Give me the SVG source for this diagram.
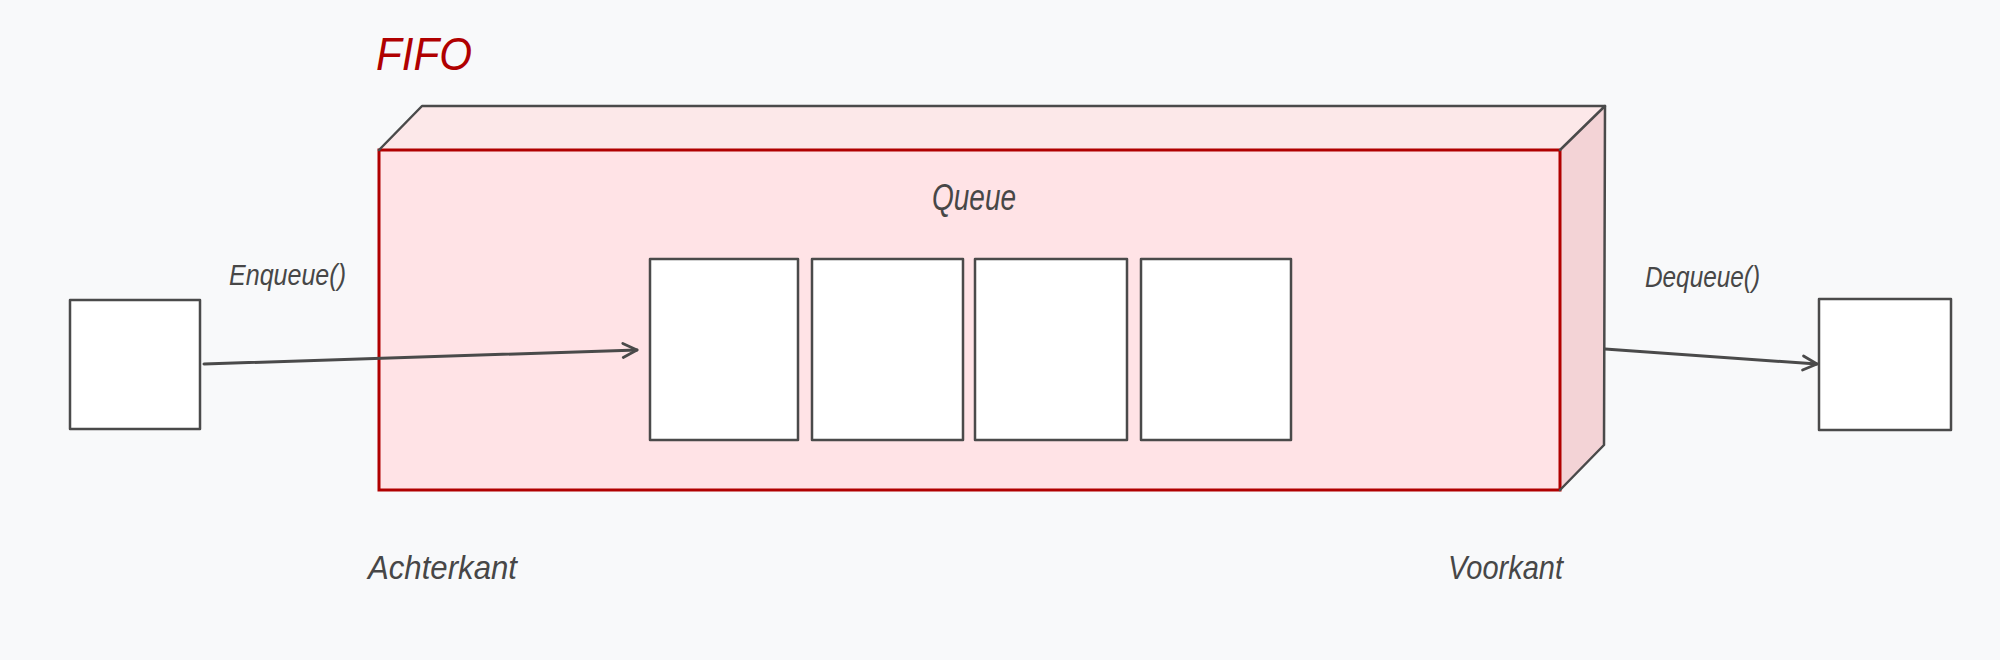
<svg xmlns="http://www.w3.org/2000/svg" width="2000" height="660" viewBox="0 0 2000 660">
  <defs>
    <style>
      .hand { font-family: "Liberation Sans", "DejaVu Sans", sans-serif; font-style: italic; fill: #474747; }
      .title { fill: #b00000; }
      .item { fill: #ffffff; stroke: #4a4a4a; stroke-width: 2.5; stroke-linejoin: round; }
      .edge { fill: none; stroke: #4a4a4a; stroke-width: 2.5; stroke-linecap: round; stroke-linejoin: round; }
      .conn { fill: none; stroke: #4a4a4a; stroke-width: 3; stroke-linecap: round; }
    </style>
    <marker id="chevron" viewBox="0 0 20 20" refX="18" refY="10" markerWidth="20" markerHeight="20" markerUnits="userSpaceOnUse" orient="auto">
      <path d="M4 3 L18 10 L4 17" fill="none" stroke="#4a4a4a" stroke-width="2.8" stroke-linecap="round" stroke-linejoin="round"/>
    </marker>
  </defs>

  <rect x="0" y="0" width="2000" height="660" fill="#f8f9fa"/>

  <g id="fifo-title">
    <text class="hand title" x="376" y="70" font-size="46" textLength="96" lengthAdjust="spacingAndGlyphs">FIFO</text>
  </g>

  <g id="queue-container">
    <path d="M379 150 L422 106 L1605 106 L1560 150 Z" fill="#fce8e9"/>
    <path d="M1560 150 L1605 106 L1604 445 L1560 490 Z" fill="#f3d3d6"/>
    <rect x="379" y="150" width="1181" height="340" fill="#ffe3e6" stroke="#b00000" stroke-width="3"/>
    <path class="edge" d="M379 150 L422 106 L1605 106 L1560 150"/>
    <path class="edge" d="M1605 106 L1604 445 L1560 490"/>
    <text class="hand" x="932" y="210" font-size="36" textLength="84" lengthAdjust="spacingAndGlyphs">Queue</text>
  </g>

  <g id="slot-1"><rect class="item" x="650" y="259" width="148" height="181"/></g>
  <g id="slot-2"><rect class="item" x="812" y="259" width="151" height="181"/></g>
  <g id="slot-3"><rect class="item" x="975" y="259" width="152" height="181"/></g>
  <g id="slot-4"><rect class="item" x="1141" y="259" width="150" height="181"/></g>

  <g id="input-item"><rect class="item" x="70" y="300" width="130" height="129"/></g>
  <g id="output-item"><rect class="item" x="1819" y="299" width="132" height="131"/></g>

  <g id="labels">
    <text class="hand" x="229" y="285" font-size="30" textLength="117" lengthAdjust="spacingAndGlyphs">Enqueue()</text>
    <text class="hand" x="1645" y="287" font-size="30" textLength="115" lengthAdjust="spacingAndGlyphs">Dequeue()</text>
    <text class="hand" x="368" y="579" font-size="34" textLength="149" lengthAdjust="spacingAndGlyphs">Achterkant</text>
    <text class="hand" x="1448" y="579" font-size="34" textLength="115" lengthAdjust="spacingAndGlyphs">Voorkant</text>
  </g>

  <g id="connectors">
    <path class="conn" d="M204 364 L637 350" marker-end="url(#chevron)"/>
    <path class="conn" d="M1605 349 L1817 364" marker-end="url(#chevron)"/>
  </g>
</svg>
